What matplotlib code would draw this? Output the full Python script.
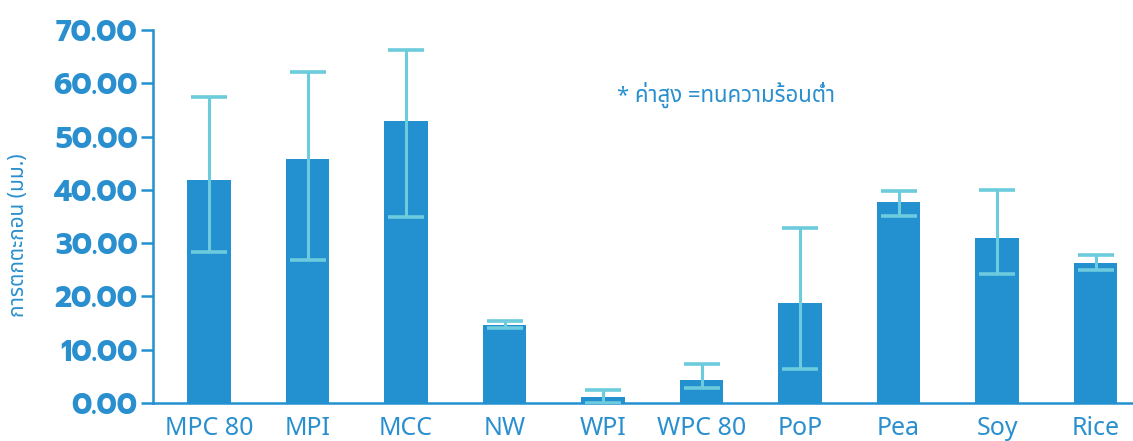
import matplotlib
matplotlib.use("Agg")
import matplotlib.pyplot as plt
import numpy as np

# settling height per protein source, with the low / high ends of each error bar
proteins = ["MPC 80", "MPI", "MCC", "NW", "WPI", "WPC 80", "PoP", "Pea", "Soy", "Rice"]
sediment = [41.9, 45.8, 52.9, 14.6, 1.1, 4.3, 18.8, 37.7, 31.0, 26.3]
err_low = [28.3, 26.9, 34.9, 14.1, 0.0, 2.8, 6.4, 35.1, 24.2, 25.0]
err_high = [57.4, 62.1, 66.2, 15.4, 2.4, 7.3, 32.8, 39.8, 40.0, 27.8]
yticks = [0, 10, 20, 30, 40, 50, 60, 70]

blue = "#2390d0"
light = "#6ccbdc"
text_blue = "#2a8fcf"

fig = plt.figure(figsize=(11.33, 4.41), dpi=100)
ax = fig.add_axes([0.135, 0.086, 0.865, 0.846])

x = np.arange(len(proteins))
lower = np.array(sediment) - np.array(err_low)
upper = np.array(err_high) - np.array(sediment)
ax.bar(x, sediment, width=0.44, color=blue, zorder=2)
ax.errorbar(x, sediment, yerr=[lower, upper], fmt="none", ecolor=light,
            elinewidth=2.2, capsize=13, capthick=2.6, zorder=3)

ax.set_xlim(-0.57, 9.38)
ax.set_ylim(0, 70)
ax.set_yticks(yticks)
ax.set_yticklabels([f"{v:.2f}" for v in yticks], family="Prompt",
                   fontweight="bold", fontsize=21, color=text_blue)
ax.set_xticks(x)
ax.set_xticklabels(proteins, family="Noto Sans Thai", fontsize=18, color=text_blue)

for side in ["top", "right"]:
    ax.spines[side].set_visible(False)
ax.spines["left"].set_color(blue)
ax.spines["bottom"].set_color(blue)
ax.spines["left"].set_linewidth(1.8)
ax.spines["bottom"].set_linewidth(1.8)
ax.tick_params(axis="y", color=blue, width=1.8, length=9, pad=2)
ax.tick_params(axis="x", length=0, pad=9)

fig.text(0.016, 0.467, "การตกตะกอน (มม.)", family="Noto Sans Thai", fontsize=15,
         color=text_blue, rotation=90, ha="center", va="center")
fig.text(0.545, 0.785, "* ค่าสูง =ทนความร้อนต่ำ", family="Noto Sans Thai",
         fontsize=16, color=text_blue, va="center")

fig.savefig("out.png")
